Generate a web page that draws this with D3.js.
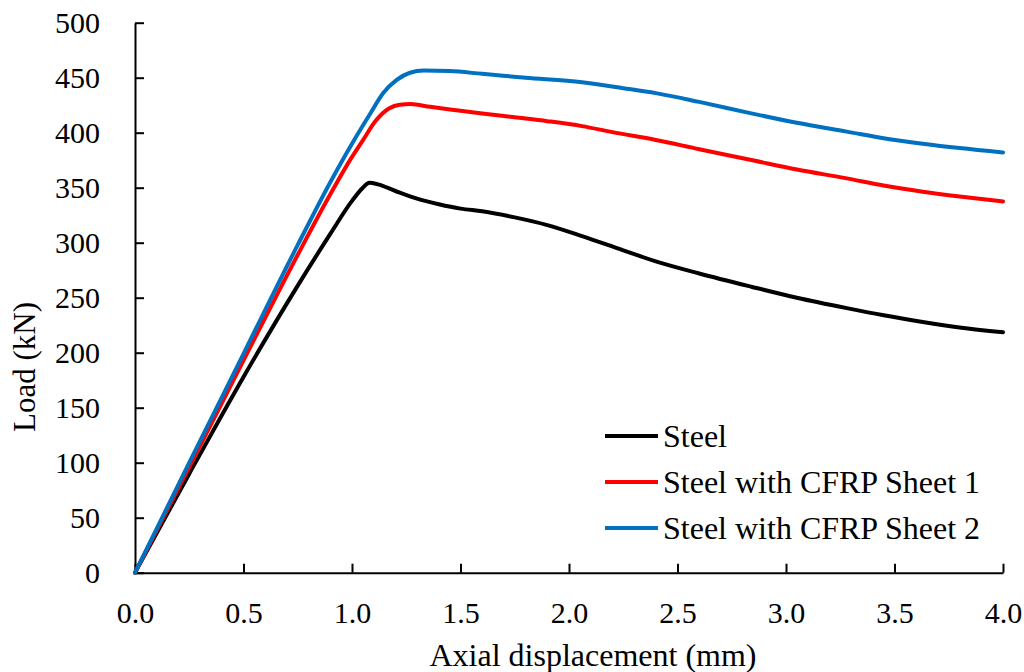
<!DOCTYPE html>
<html>
<head>
<meta charset="utf-8">
<script src="https://cdn.jsdelivr.net/npm/d3@7"></script>
<style>
  html, body { margin: 0; padding: 0; background: #fff; }
  svg { display: block; }
  text { font-family: "Liberation Serif", "Times New Roman", serif; fill: #000; }
</style>
</head>
<body>
<svg id="chart" width="1024" height="672"></svg>
<script>
// ---- data ----
const seriesNames = ["Steel", "Steel with CFRP Sheet 1", "Steel with CFRP Sheet 2"];
const seriesColors = ["#000000", "#FF0000", "#0070C0"];

const steelX = [0, 0.25, 0.5, 0.75, 0.9, 1.0, 1.05, 1.08, 1.12, 1.2, 1.3, 1.4, 1.5, 1.6, 1.75, 1.9, 2.06, 2.25, 2.4, 2.6, 2.84, 3.05, 3.28, 3.45, 3.63, 3.8, 4.0];
const steelY = [0, 90, 178, 261, 308, 338, 350, 354.5, 353, 347, 340, 335, 331, 328.5, 323, 316, 306, 293, 283, 272, 260, 250, 240.5, 234, 228, 223, 218.5];

const cfrp1X = [0, 0.25, 0.5, 0.75, 0.9, 1.0, 1.05, 1.11, 1.17, 1.22, 1.27, 1.36, 1.5, 1.6, 1.75, 1.9, 2.06, 2.2, 2.4, 2.6, 2.84, 3.05, 3.28, 3.45, 3.63, 3.8, 4.0];
const cfrp1Y = [0, 96, 193, 289, 344, 378, 393, 411, 422, 425.5, 426, 423.5, 420, 417.5, 414, 410.5, 406, 400.5, 393.4, 385, 375.2, 366.5, 358.5, 352, 346.4, 342, 337.5];

const cfrp2X = [0, 0.25, 0.5, 0.75, 0.9, 1.0, 1.083, 1.144, 1.206, 1.267, 1.33, 1.45, 1.6, 1.8, 2.06, 2.25, 2.4, 2.6, 2.84, 3.05, 3.28, 3.45, 3.63, 3.8, 4.0];
const cfrp2Y = [0, 100, 199, 298, 355, 390, 417, 436, 448, 454.5, 456.5, 456, 453.5, 450, 445.8, 440.5, 436, 428, 417.6, 409, 401, 395, 390, 386, 382];

const xTicks = [0, 0.5, 1.0, 1.5, 2.0, 2.5, 3.0, 3.5, 4.0];
const yTicks = [0, 50, 100, 150, 200, 250, 300, 350, 400, 450, 500];

const xTitle = "Axial displacement (mm)";
const yTitle = "Load (kN)";

// ---- build ----
const series = [
  { name: seriesNames[0], color: seriesColors[0], pts: steelX.map((v, i) => [v, steelY[i]]) },
  { name: seriesNames[1], color: seriesColors[1], pts: cfrp1X.map((v, i) => [v, cfrp1Y[i]]) },
  { name: seriesNames[2], color: seriesColors[2], pts: cfrp2X.map((v, i) => [v, cfrp2Y[i]]) }
];

const svg = d3.select("#chart");
const plotLeft = 135, plotRight = 1003, plotTop = 22.7, plotBottom = 572.7;

const xScale = d3.scaleLinear().domain([0, 4]).range([plotLeft, plotRight]);
const yScale = d3.scaleLinear().domain([0, 500]).range([plotBottom, plotTop]);

// axes
const xAxis = d3.axisBottom(xScale).tickValues(xTicks).tickFormat(d3.format(".1f"))
  .tickSizeInner(-9).tickSizeOuter(0).tickPadding(29);
const yAxis = d3.axisLeft(yScale).tickValues(yTicks).tickFormat(d3.format("d"))
  .tickSizeInner(-9).tickSizeOuter(0).tickPadding(35);

const gx = svg.append("g").attr("transform", `translate(0,${plotBottom})`).call(xAxis);
const gy = svg.append("g").attr("transform", `translate(${plotLeft},0)`).call(yAxis);

[gx, gy].forEach(g => {
  g.select(".domain").attr("stroke", "#000").attr("stroke-width", 2);
  g.selectAll(".tick line").attr("stroke", "#000").attr("stroke-width", 2);
  g.selectAll(".tick text")
    .attr("font-family", "'Liberation Serif', 'Times New Roman', serif")
    .attr("font-size", 30).attr("fill", "#000");
});

// lines
const line = d3.line().x(d => xScale(d[0])).y(d => yScale(d[1])).curve(d3.curveMonotoneX);
svg.append("g").selectAll("path").data(series).join("path")
  .attr("d", d => line(d.pts))
  .attr("fill", "none")
  .attr("stroke", d => d.color)
  .attr("stroke-width", 4)
  .attr("stroke-linejoin", "round")
  .attr("stroke-linecap", "round");

// titles
svg.append("text")
  .attr("x", 593).attr("y", 666)
  .attr("text-anchor", "middle")
  .attr("font-size", 32)
  .text(xTitle);

svg.append("text")
  .attr("transform", "translate(35,367) rotate(-90)")
  .attr("text-anchor", "middle")
  .attr("font-size", 31)
  .text(yTitle);

// legend
const legend = svg.append("g").attr("transform", "translate(605,436)");
const items = legend.selectAll("g").data(series).join("g")
  .attr("transform", (d, i) => `translate(0,${i * 46})`);
items.append("line")
  .attr("x1", 0).attr("x2", 53).attr("y1", 0).attr("y2", 0)
  .attr("stroke", d => d.color).attr("stroke-width", 4);
items.append("text")
  .attr("x", 58).attr("y", 10.5)
  .attr("font-size", 32)
  .text(d => d.name);
</script>
</body>
</html>
